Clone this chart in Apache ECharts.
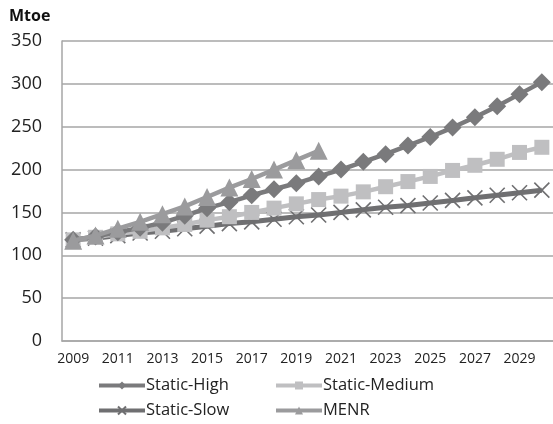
<!DOCTYPE html>
<html>
<head>
<meta charset="utf-8">
<script src="https://cdn.jsdelivr.net/npm/echarts@6/dist/echarts.min.js"></script>
<style>
  html, body { margin: 0; padding: 0; background: #fff; }
  #chart { width: 553px; height: 424px; }
</style>
</head>
<body>
<div id="chart"></div>
<script>
// Energy demand scenarios, Mtoe
const years = ['2009','2010','2011','2012','2013','2014','2015','2016','2017','2018','2019',
               '2020','2021','2022','2023','2024','2025','2026','2027','2028','2029','2030'];
const staticHigh   = [118,122,127,132,138,146,155,162,170,177,184,192,200,209,218,228,238,249,261,274,288,302];
const staticMedium = [118,121,125,128,132,136,141,145,150,155,160,165,169,174,180,186,192,199,205,212,220,226];
const staticSlow   = [118,120,123,126,128,131,134,137,139,142,145,147,150,153,156,158,161,164,167,170,173,176];
const menr         = [117,123,131,139,148,157,168,179,189,200,211,222];
const yTicks = { min: 0, max: 350, step: 50 };

const FONT = '"Open Sans", "Noto Sans", sans-serif';
const crossPath = 'path://M0,0L10,10M10,0L0,10';

const chart = echarts.init(document.getElementById('chart'), null, { renderer: 'canvas' });

function legendAt(name, left, top) {
  return {
    data: [name], left: left, top: top, orient: 'horizontal',
    itemWidth: 46, itemHeight: 10, itemGap: 0, padding: 0,
    lineStyle: { width: 4 },
    textStyle: { fontFamily: FONT, fontSize: 16.5, color: '#222', padding: [0, 0, 0, -4] }
  };
}

chart.setOption({
  animation: false,
  backgroundColor: '#fff',
  textStyle: { fontFamily: FONT },
  title: {
    text: 'Mtoe', left: 9, top: 8, padding: 0,
    textStyle: { fontFamily: FONT, fontSize: 16, fontWeight: 'bold', color: '#111' }
  },
  grid: { left: 62, right: 0, top: 41, bottom: 83, containLabel: false },
  legend: [
    legendAt('Static-High', 97, 377),
    legendAt('Static-Medium', 274, 377),
    legendAt('Static-Slow', 97, 402),
    legendAt('MENR', 274, 402)
  ],
  xAxis: {
    type: 'category', data: years, boundaryGap: true,
    axisLine: { lineStyle: { color: '#a6a6a6', width: 1.5 } },
    axisTick: { show: false },
    axisLabel: { interval: 1, margin: 11, fontFamily: FONT, fontSize: 14, color: '#222' }
  },
  yAxis: {
    type: 'value', min: yTicks.min, max: yTicks.max, interval: yTicks.step,
    axisLine: { show: true, lineStyle: { color: '#a6a6a6', width: 1.5 } },
    axisTick: { show: false },
    splitLine: { lineStyle: { color: '#a6a6a6', width: 1.5 } },
    axisLabel: { margin: 20, fontFamily: FONT, fontSize: 18, color: '#222' }
  },
  series: [
    {
      name: 'Static-High', type: 'line', data: staticHigh,
      symbol: 'diamond', symbolSize: 18, showAllSymbol: true, z: 3,
      lineStyle: { color: '#7a7a7c', width: 4.5 },
      itemStyle: { color: '#7a7a7c' }
    },
    {
      name: 'Static-Medium', type: 'line', data: staticMedium,
      symbol: 'rect', symbolSize: 15, showAllSymbol: true, z: 2,
      lineStyle: { color: '#bfbfc1', width: 4.5 },
      itemStyle: { color: '#bfbfc1' }
    },
    {
      name: 'Static-Slow', type: 'line', data: staticSlow,
      symbol: crossPath, symbolSize: 15, showAllSymbol: true, z: 1,
      lineStyle: { color: '#6f6f71', width: 5 },
      itemStyle: { color: '#6f6f71', borderColor: '#6f6f71', borderWidth: 1.6 }
    },
    {
      name: 'MENR', type: 'line', data: menr,
      symbol: 'triangle', symbolSize: 18, showAllSymbol: true, z: 4,
      lineStyle: { color: '#9b9b9d', width: 4.5 },
      itemStyle: { color: '#9b9b9d' }
    }
  ]
});
</script>
</body>
</html>
